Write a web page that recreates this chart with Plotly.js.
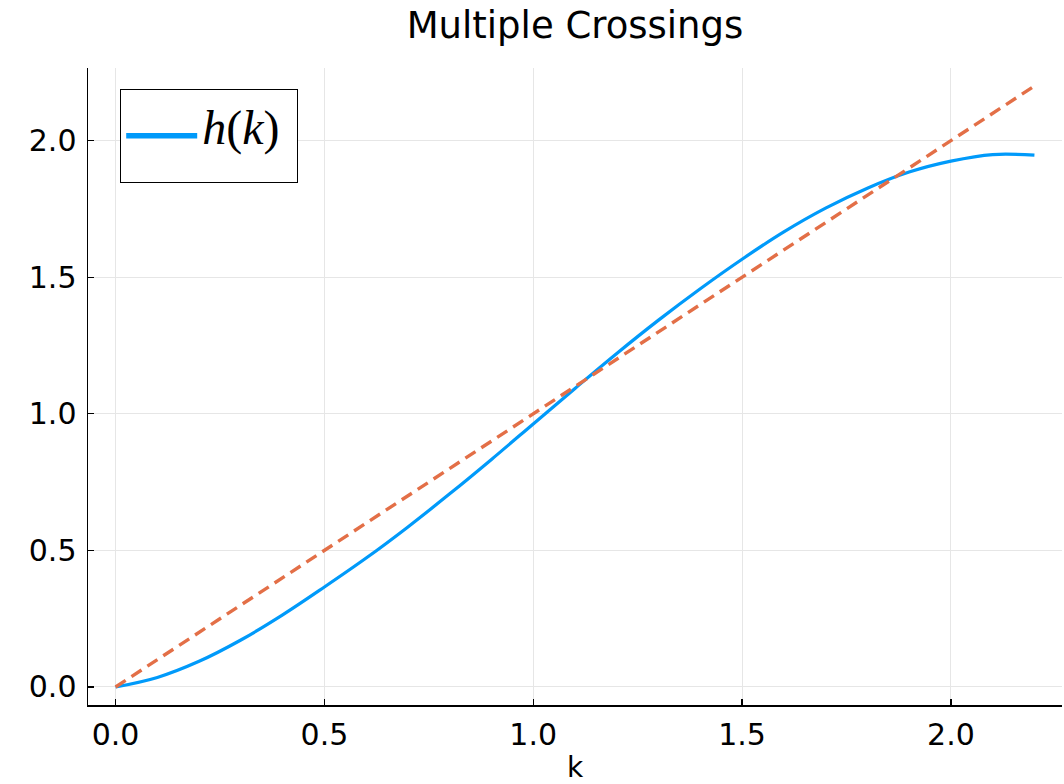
<!DOCTYPE html>
<html>
<head>
<meta charset="utf-8">
<script src="https://cdn.plot.ly/plotly-3.0.1.min.js"></script>
<style>html,body{margin:0;padding:0;background:#fff;}#chart{width:1064px;height:784px;}</style>
</head>
<body>
<div id="chart"></div>
<script>
// Data
const k = [0, 0.1, 0.2, 0.3, 0.4, 0.5, 0.6, 0.7, 0.8, 0.9, 1.0, 1.1, 1.2, 1.3, 1.4, 1.5, 1.6, 1.7, 1.8, 1.9, 2.0, 2.1, 2.2];
const h = [0, 0.035, 0.094, 0.172, 0.264, 0.366, 0.472, 0.586, 0.707, 0.833, 0.963, 1.093, 1.221, 1.343, 1.458, 1.566, 1.666, 1.753, 1.826, 1.885, 1.925, 1.949, 1.947];
const diagX = [0, 2.2];
const diagY = [0, 2.2];
const tickVals = [0, 0.5, 1.0, 1.5, 2.0];
const tickText = ["0.0", "0.5", "1.0", "1.5", "2.0"];
const seriesLabel = "<i>h</i>(<i>k</i>)";
const titleText = "Multiple Crossings";
const xLabel = "k";

const blue = "#009AFA";
const orange = "#E36F47";

const legendName = " <br><span style='font-size:48px'>" + seriesLabel + "&nbsp;</span><br> ";

const traces = [
  {x: k, y: h, type: "scatter", mode: "lines", name: "h(k)", showlegend: false,
   line: {color: blue, width: 3.2, shape: "spline", smoothing: 1}},
  {x: diagX, y: diagY, type: "scatter", mode: "lines", name: "45° line", showlegend: false,
   line: {color: orange, width: 3.4, dash: "12px,7px"}},
  {x: [null], y: [null], type: "scatter", mode: "lines", name: legendName, showlegend: true,
   line: {color: blue, width: 5.5}}
];

const axisCommon = {
  range: [-0.066, 2.266],
  tickmode: "array",
  tickvals: tickVals,
  ticktext: tickText,
  showline: true,
  linecolor: "#000",
  linewidth: 1.5,
  mirror: false,
  ticks: "inside",
  ticklen: 6,
  tickwidth: 1.2,
  tickcolor: "#000",
  showgrid: true,
  gridcolor: "#e6e6e6",
  gridwidth: 1,
  zeroline: false,
  tickfont: {family: "DejaVu Sans", size: 30, color: "#000"}
};

const layout = {
  width: 1064,
  height: 784,
  margin: {l: 88, r: 2, t: 68, b: 79, pad: 0},
  paper_bgcolor: "#fff",
  plot_bgcolor: "#fff",
  title: {text: titleText, x: 0.5, xref: "paper", y: 1 - 25/784, yref: "container", yanchor: "middle",
          font: {family: "DejaVu Sans", size: 37, color: "#000"}},
  xaxis: Object.assign({}, axisCommon, {
    ticklabelstandoff: 2,
    automargin: true,
    title: {text: xLabel, font: {family: "DejaVu Sans", size: 28, color: "#000"}, standoff: 10}
  }),
  yaxis: Object.assign({}, axisCommon, {ticklabelstandoff: 4}),
  legend: {
    x: 32/974, y: (705-89)/637, xanchor: "left", yanchor: "top",
    bgcolor: "#fff", bordercolor: "#000", borderwidth: 1.2,
    font: {family: "Liberation Serif", size: 20, color: "#000"},
    itemwidth: 71, valign: "middle"
  },
  showlegend: true
};

Plotly.newPlot("chart", traces, layout, {displayModeBar: false, staticPlot: true});
</script>
</body>
</html>
